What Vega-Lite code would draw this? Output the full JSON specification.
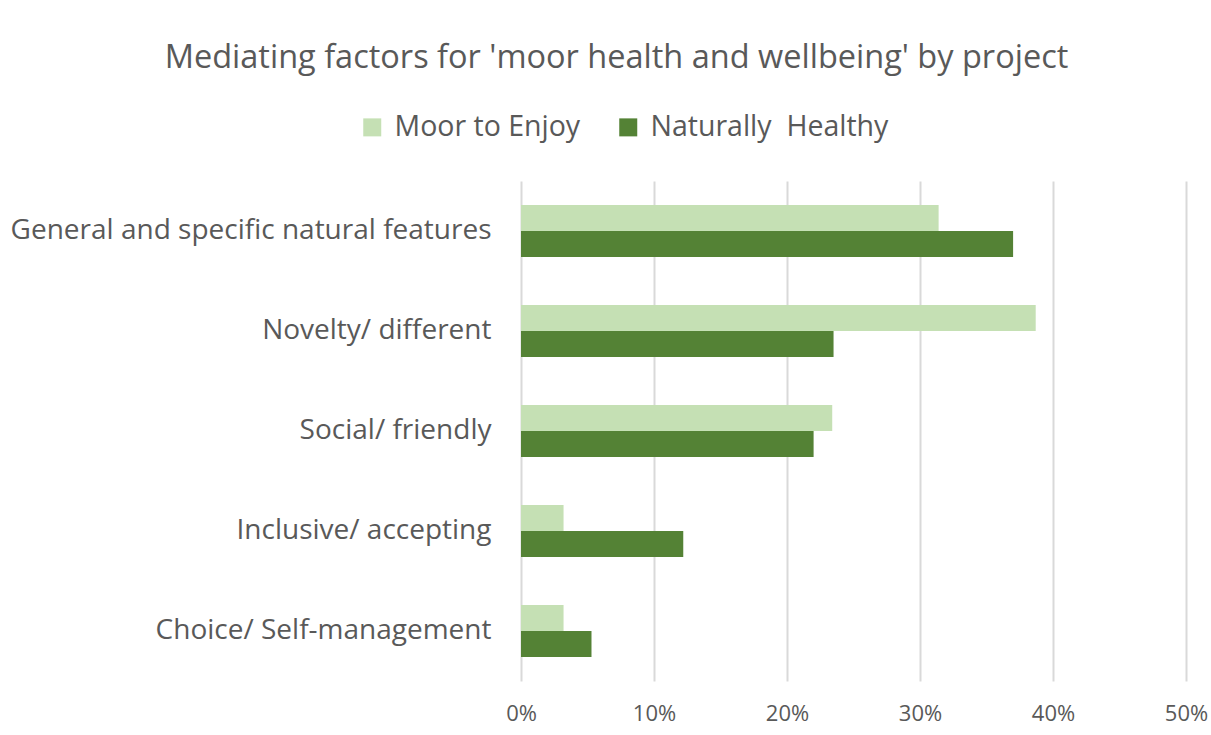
{
  "$schema": "https://vega.github.io/schema/vega-lite/v6.json",
  "autosize": "none",
  "width": 665,
  "height": 500,
  "padding": {"left": 521, "top": 181, "right": 25, "bottom": 54},
  "background": "white",
  "title": {
    "text": "Mediating factors for 'moor health and wellbeing' by project",
    "anchor": "middle",
    "dx": -237,
    "offset": 13,
    "baseline": "alphabetic",
    "font": "Open Sans",
    "fontSize": 32.5,
    "fontWeight": "normal",
    "color": "#595959"
  },
  "data": {
    "values": [
      {"factor": "General and specific natural features", "project": "Moor to Enjoy", "value": 0.314},
      {"factor": "General and specific natural features", "project": "Naturally  Healthy", "value": 0.370},
      {"factor": "Novelty/ different", "project": "Moor to Enjoy", "value": 0.387},
      {"factor": "Novelty/ different", "project": "Naturally  Healthy", "value": 0.235},
      {"factor": "Social/ friendly", "project": "Moor to Enjoy", "value": 0.234},
      {"factor": "Social/ friendly", "project": "Naturally  Healthy", "value": 0.220},
      {"factor": "Inclusive/ accepting", "project": "Moor to Enjoy", "value": 0.032},
      {"factor": "Inclusive/ accepting", "project": "Naturally  Healthy", "value": 0.122},
      {"factor": "Choice/ Self-management", "project": "Moor to Enjoy", "value": 0.032},
      {"factor": "Choice/ Self-management", "project": "Naturally  Healthy", "value": 0.053}
    ]
  },
  "mark": {"type": "bar"},
  "encoding": {
    "y": {
      "field": "factor",
      "type": "nominal",
      "sort": null,
      "scale": {"paddingInner": 0.48, "paddingOuter": 0.24},
      "axis": {
        "title": null,
        "domain": false,
        "ticks": false,
        "labelPadding": 30,
        "labelFont": "Open Sans",
        "labelFontSize": 28,
        "labelColor": "#595959",
        "labelLimit": 600
      }
    },
    "yOffset": {"field": "project", "type": "nominal", "sort": ["Moor to Enjoy", "Naturally  Healthy"], "scale": {"paddingInner": 0, "paddingOuter": 0}},
    "x": {
      "field": "value",
      "type": "quantitative",
      "scale": {"domain": [0, 0.5], "nice": false},
      "axis": {
        "title": null,
        "format": ".0%",
        "values": [0, 0.1, 0.2, 0.3, 0.4, 0.5],
        "labelOverlap": false,
        "labelFlush": false,
        "domain": false,
        "ticks": false,
        "grid": true,
        "gridColor": "#d9d9d9",
        "gridWidth": 2,
        "labelPadding": 22,
        "labelFont": "Open Sans",
        "labelFontSize": 22,
        "labelColor": "#595959"
      }
    },
    "color": {
      "field": "project",
      "type": "nominal",
      "sort": ["Moor to Enjoy", "Naturally  Healthy"],
      "scale": {"domain": ["Moor to Enjoy", "Naturally  Healthy"], "range": ["#c5e0b4", "#548235"]},
      "legend": {
        "title": null,
        "orient": "none",
        "direction": "horizontal",
        "legendX": -163,
        "legendY": -68,
        "symbolType": "square",
        "symbolSize": 324,
        "symbolStrokeWidth": 0,
        "labelFont": "Open Sans",
        "labelFontSize": 28.5,
        "labelColor": "#595959",
        "labelExpr": "replace(datum.label, '  ', '\u00a0 ')",
        "columnPadding": 33,
        "labelOffset": 8,
        "labelLimit": 400
      }
    }
  },
  "config": {
    "view": {"stroke": null}
  }
}
